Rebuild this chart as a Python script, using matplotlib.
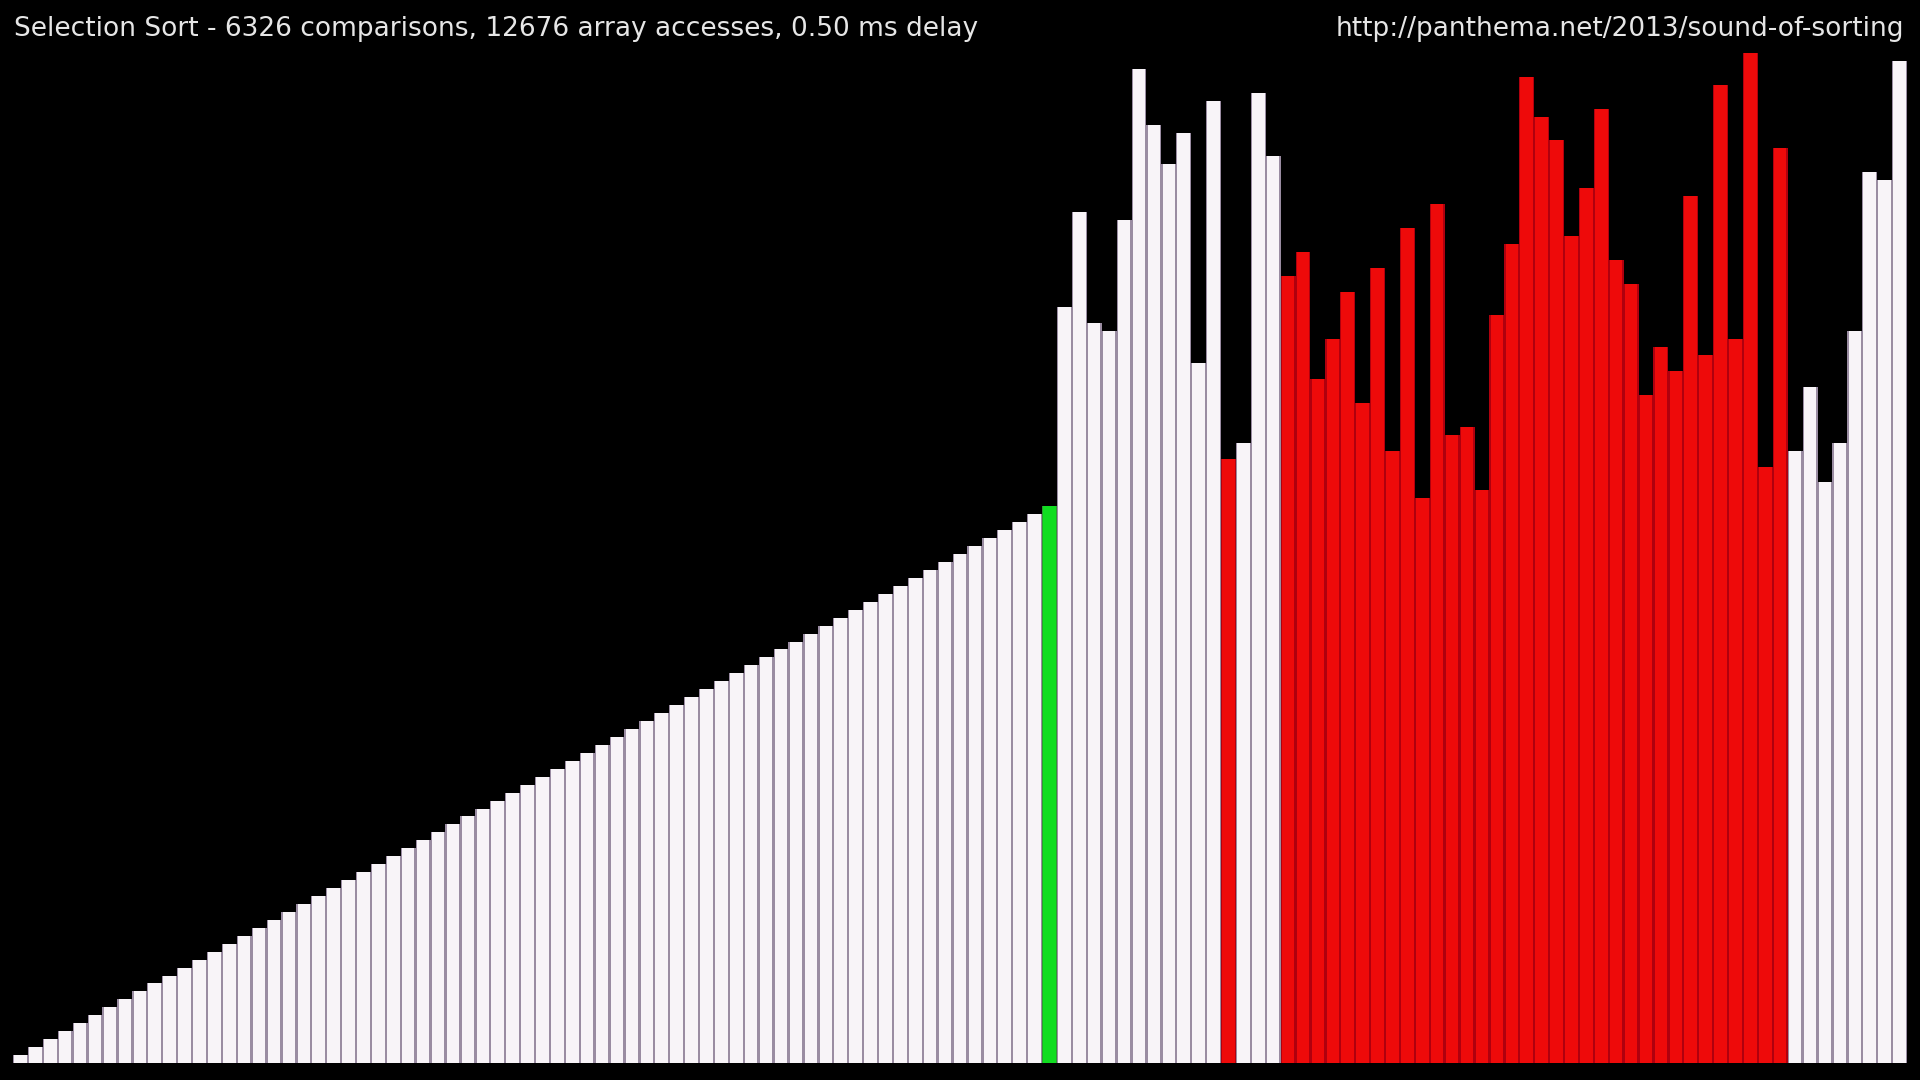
import matplotlib
matplotlib.use("Agg")
import matplotlib.pyplot as plt

# sorted prefix (already in place)
sorted_vals = [
    1, 2, 3, 4, 5, 6, 7, 8, 9, 10, 11, 12, 13, 14, 15, 16, 17, 18, 19, 20,
    21, 22, 23, 24, 25, 26, 27, 28, 29, 30, 31, 32, 33, 34, 35, 36, 37, 38, 39, 40,
    41, 42, 43, 44, 45, 46, 47, 48, 49, 50, 51, 52, 53, 54, 55, 56, 57, 58, 59, 60,
    61, 62, 63, 64, 65, 66, 67, 68, 69,
]

# unsorted rest, index 69..126
rest_vals = [
    70, 95, 107, 93, 92, 106, 125, 118, 113, 117,
    88, 121, 76, 78, 122, 114, 99, 102, 86, 91,
    97, 83, 100, 77, 105, 71, 108, 79, 80, 72,
    94, 103, 124, 119, 116, 104, 110, 120, 101, 98,
    84, 90, 87, 109, 89, 123, 91, 127, 75, 115,
    77, 85, 73, 78, 92, 112, 111, 126,
]

values = sorted_vals + rest_vals
n_max = 127

# marker state of each bar
green_idx = [69]
red_idx = [81] + list(range(85, 119))

colors = []
gaps = []
for i in range(len(values)):
    if i in green_idx:
        colors.append("#10dd20")
        gaps.append("#2c9a30")
    elif i in red_idx:
        colors.append("#ee0a0a")
        gaps.append("#b0000e")
    else:
        colors.append("#f8f4f8")
        gaps.append("#9a8ca2")

title = "Selection Sort - 6326 comparisons, 12676 array accesses, 0.50 ms delay"
url = "http://panthema.net/2013/sound-of-sorting"

fig = plt.figure(figsize=(19.2, 10.8), dpi=100, facecolor="black")
ax = fig.add_axes([13 / 1920, 17 / 1080, 1894 / 1920, 1010 / 1080])
ax.set_facecolor("black")

x = range(len(values))
# soft seam colour between neighbouring bars (video blur look)
ax.bar(x, values, width=1.0, color=gaps, edgecolor="none")
ax.bar(x, values, width=0.84, color=colors, edgecolor="none")

ax.set_xlim(-0.5, len(values) - 0.5)
ax.set_ylim(0, n_max)
ax.axis("off")

fig.text(14 / 1920, 1 - 29 / 1080, title, color="#e6e6e6", fontsize=19,
         ha="left", va="center", family="DejaVu Sans")
fig.text(1904 / 1920, 1 - 29 / 1080, url, color="#e6e6e6", fontsize=19,
         ha="right", va="center", family="DejaVu Sans")

fig.savefig("out.png", dpi=100, facecolor="black")
